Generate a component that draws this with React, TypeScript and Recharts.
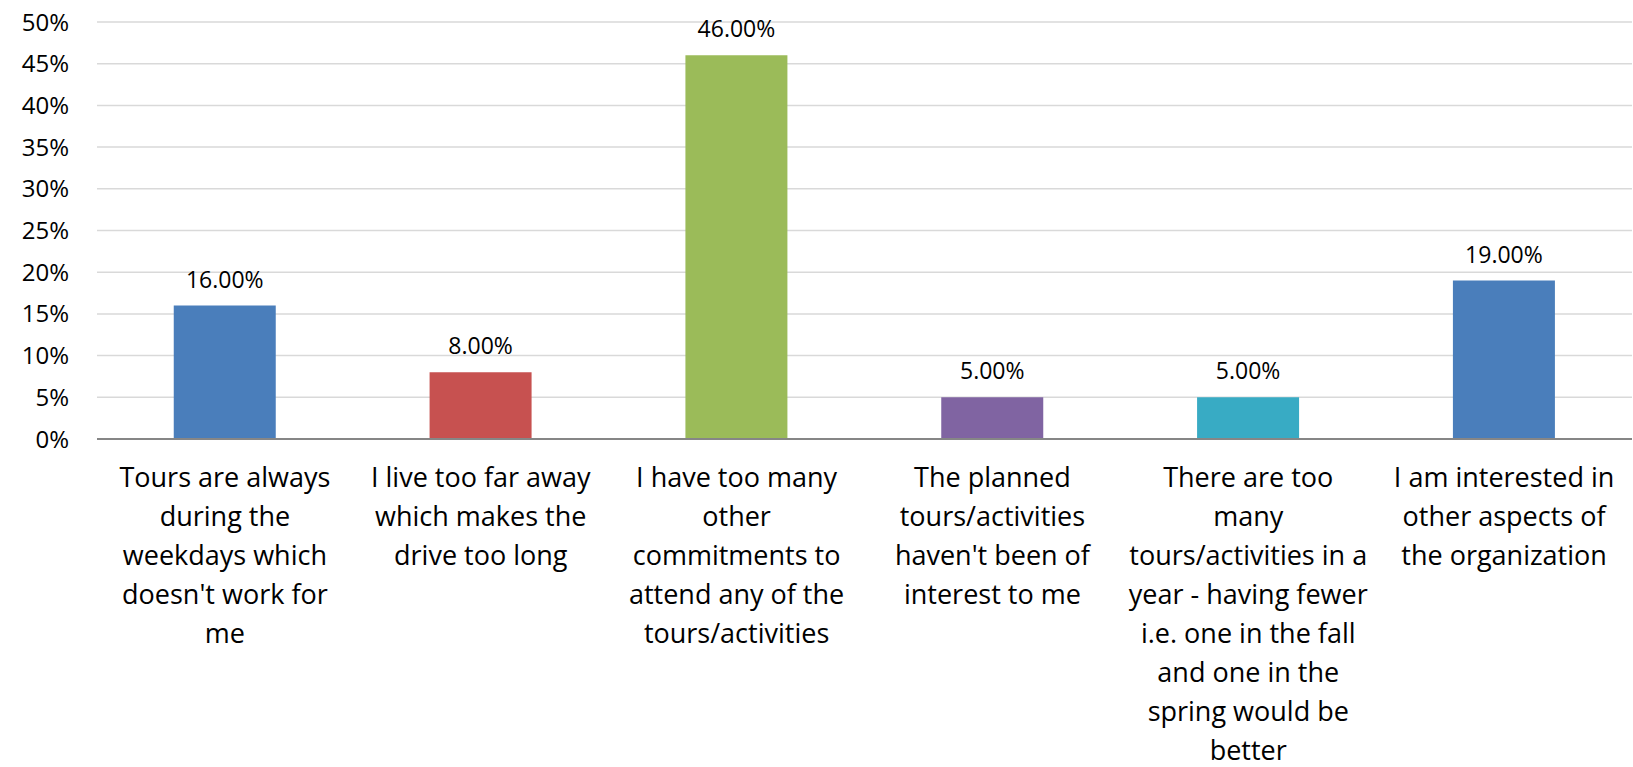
import { BarChart, Bar, XAxis, YAxis, CartesianGrid, Cell, LabelList } from 'recharts'

const categories = [
  "Tours are always\nduring the\nweekdays which\ndoesn't work for\nme",
  'I live too far away\nwhich makes the\ndrive too long',
  'I have too many\nother\ncommitments to\nattend any of the\ntours/activities',
  "The planned\ntours/activities\nhaven't been of\ninterest to me",
  'There are too\nmany\ntours/activities in a\nyear - having fewer\ni.e. one in the fall\nand one in the\nspring would be\nbetter',
  'I am interested in\nother aspects of\nthe organization',
]

const values = [16, 8, 46, 5, 5, 19]

const barColors = ['#4A7EBB', '#C75150', '#9BBB59', '#8064A2', '#38ABC4', '#4A7EBB']

const yTicks = [0, 5, 10, 15, 20, 25, 30, 35, 40, 45, 50]

const data = categories.map((name, i) => ({ name, value: values[i] }))

const FONT = '"Open Sans", sans-serif'

function CategoryTick({ x, y, payload }: any) {
  const lines = String(payload.value).split('\n')
  return (
    <text x={x} y={y} textAnchor="middle" fill="#000" fontFamily={FONT} fontSize={27}>
      {lines.map((line, i) => (
        <tspan key={i} x={x} dy={i === 0 ? 40 : 39}>
          {line}
        </tspan>
      ))}
    </text>
  )
}

export default function App() {
  return (
    <div style={{ position: 'absolute', left: 0, top: 0, background: '#fff' }}>
      <BarChart
        width={1633}
        height={767}
        data={data}
        margin={{ top: 22, right: 1, left: 0, bottom: 0 }}
        barCategoryGap="30%"
      >
        <CartesianGrid vertical={false} stroke="#D9D9D9" strokeWidth={1.5} />
        <XAxis
          dataKey="name"
          height={328}
          interval={0}
          tickLine={false}
          axisLine={{ stroke: '#868686', strokeWidth: 2 }}
          tick={<CategoryTick />}
        />
        <YAxis
          width={97}
          domain={[0, 50]}
          ticks={yTicks}
          interval={0}
          tickLine={false}
          axisLine={false}
          tickSize={0}
          tickMargin={28}
          tickFormatter={(v: number) => `${v}%`}
          tick={{ fill: '#000', fontSize: 24, fontFamily: FONT }}
        />
        <Bar dataKey="value" isAnimationActive={false}>
          {data.map((d, i) => (
            <Cell key={d.name} fill={barColors[i]} />
          ))}
          <LabelList
            dataKey="value"
            position="top"
            offset={18}
            formatter={(v: any) => `${Number(v).toFixed(2)}%`}
            style={{ fill: '#000', fontSize: 23, fontFamily: FONT }}
          />
        </Bar>
      </BarChart>
    </div>
  )
}
